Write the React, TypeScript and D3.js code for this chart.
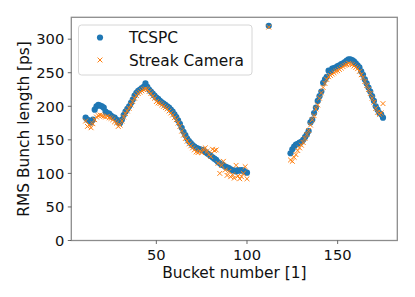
import React from 'react'
import * as d3 from 'd3'

// bucket numbers
const bucketsLeft = [11, 12, 13, 14, 15, 16, 17, 18, 19, 20, 21, 22, 23, 24, 25, 26, 27, 28, 29, 30,
  31, 32, 33, 34, 35, 36, 37, 38, 39, 40, 41, 42, 43, 44, 45, 46, 47, 48, 49, 50,
  51, 52, 53, 54, 55, 56, 57, 58, 59, 60, 61, 62, 63, 64, 65, 66, 67, 68, 69, 70,
  71, 72, 73, 74, 75, 76, 77, 78, 79, 80, 81, 82, 83, 84, 85, 86, 87, 88, 89, 90,
  91, 92, 93, 94, 95, 96, 97, 98, 99, 100]
const bucketsMid = [112]
const bucketsRight = [124, 125, 126, 127, 128, 129, 130, 131, 132, 133, 134, 135, 136, 137, 138, 139,
  140, 141, 142, 143, 144, 145, 146, 147, 148, 149, 150, 151, 152, 153, 154, 155, 156, 157, 158, 159,
  160, 161, 162, 163, 164, 165, 166, 167, 168, 169, 170, 171, 172, 173, 174, 175]

// TCSPC values [ps]
const tcspcLeft = [183, 180, 178, 176, 180, 195, 200, 202, 201, 200, 198, 192, 190, 189, 186, 184, 183, 180, 176, 175,
  180, 187, 192, 196, 200, 205, 210, 216, 220, 223, 225, 227, 229, 234, 229, 225, 222, 219, 216, 213,
  211, 208, 206, 204, 202, 200, 198, 195, 192, 188, 184, 179, 174, 168, 162, 157, 152, 148, 145, 142,
  140, 138, 137, 136, 135, 134, 132, 130, 128, 126, 124, 122, 120, 117, 115, 113, 112, 110, 109, 108,
  106, 105, 104, 103, 105, 104, 105, 104, 102, 101]
const tcspcMid = [320]
const tcspcRight = [130, 136, 140, 143, 144, 146, 147, 150, 154, 158, 163, 176, 180, 190, 198, 208,
  215, 222, 235, 240, 244, 253, 252, 256, 257, 258, 260, 261, 263, 264, 266, 268, 270, 270, 269, 267,
  264, 261, 258, 252, 247, 240, 234, 228, 222, 215, 208, 200, 195, 190, 188, 183]

// Streak camera values [ps]
const streakLeft = [178, 170, 172, 168, 174, 180, 184, 186, 187, 186, 185, 184, 185, 183, 182, 180, 177, 175, 170, 172,
  178, 184, 189, 193, 197, 202, 207, 212, 216, 219, 221, 223, 225, 226, 225, 222, 219, 215, 212, 207,
  205, 204, 202, 200, 198, 196, 193, 190, 187, 183, 180, 175, 170, 163, 157, 152, 148, 144, 141, 138,
  135, 132, 131, 133, 131, 136, 138, 133, 128, 125, 136, 134, 135, 115, 100, 112, 118, 105, 97, 103,
  95, 98, 93, 112, 96, 92, 95, 100, 110, 92]
const streakMid = [318]
const streakRight = [120, 118, 124, 128, 134, 138, 142, 146, 152, 158, 164, 172, 180, 186, 196, 202,
  212, 220, 228, 234, 240, 244, 246, 248, 250, 252, 253, 255, 257, 259, 261, 262, 264, 263, 262, 260,
  258, 256, 252, 247, 243, 237, 231, 225, 219, 212, 206, 197, 191, 188, 190, 204]

const xTicks = [50, 100, 150]
const yTicks = [0, 50, 100, 150, 200, 250, 300]

const buckets = [...bucketsLeft, ...bucketsMid, ...bucketsRight]
const tcspc = [...tcspcLeft, ...tcspcMid, ...tcspcRight]
const streak = [...streakLeft, ...streakMid, ...streakRight]

const width = 415
const height = 297
const margin = { top: 17.3, right: 17.7, bottom: 56.5, left: 71.3 }

const blue = '#1f77b4'
const orange = '#ff7f0e'
const font = 'DejaVu Sans, sans-serif'
const tickSize = 14.7
const labelSize = 15.4

export default function App() {
  const x = d3.scaleLinear().domain([3.1, 182.9]).range([margin.left, width - margin.right])
  const y = d3.scaleLinear().domain([0, 332.6]).range([height - margin.bottom, margin.top])

  const x0 = margin.left
  const x1 = width - margin.right
  const y0 = height - margin.bottom
  const y1 = margin.top

  return (
    <svg width={width} height={height} style={{ position: 'absolute', left: 0, top: 0 }}
      fontFamily={font}>
      <rect width={width} height={height} fill="white" />

      {/* TCSPC */}
      {buckets.map((b, i) => (
        <circle key={'c' + i} cx={x(b)} cy={y(tcspc[i])} r={3.1} fill={blue} />
      ))}

      {/* streak camera */}
      {buckets.map((b, i) => {
        const cx = x(b), cy = y(streak[i]), s = 2.4
        return (
          <path key={'s' + i}
            d={`M${cx - s},${cy - s}L${cx + s},${cy + s}M${cx - s},${cy + s}L${cx + s},${cy - s}`}
            stroke={orange} strokeWidth={1} fill="none" />
        )
      })}

      {/* frame */}
      <rect x={x0} y={y1} width={x1 - x0} height={y0 - y1} fill="none" stroke="#8c8c8c" strokeWidth={1.3} />

      {/* x axis */}
      {xTicks.map(t => (
        <g key={'xt' + t}>
          <line x1={x(t)} x2={x(t)} y1={y0} y2={y0 + 3.5} stroke="#444" strokeWidth={0.8} />
          <text x={x(t)} y={y0 + 19} textAnchor="middle" fontSize={tickSize} fill="#111">{t}</text>
        </g>
      ))}
      <text x={(x0 + x1) / 2} y={277.5} textAnchor="middle" fontSize={labelSize} fill="#111">Bucket number [1]</text>

      {/* y axis */}
      {yTicks.map(t => (
        <g key={'yt' + t}>
          <line x1={x0 - 3.5} x2={x0} y1={y(t)} y2={y(t)} stroke="#444" strokeWidth={0.8} />
          <text x={x0 - 7} y={y(t) + 5.3} textAnchor="end" fontSize={tickSize} fill="#111">{t}</text>
        </g>
      ))}
      <text transform={`translate(28.5,${(y0 + y1) / 2}) rotate(-90)`} textAnchor="middle"
        fontSize={labelSize} fill="#111">RMS Bunch length [ps]</text>

      {/* legend */}
      <rect x={78.5} y={25} width={173.5} height={50} rx={3} fill="white" fillOpacity={0.8}
        stroke="#d6d6d6" strokeWidth={1} />
      <circle cx={100} cy={37.5} r={3.1} fill={blue} />
      <text x={129} y={43} fontSize={labelSize} fill="#111">TCSPC</text>
      <path d="M97.6,57.6L102.4,62.4M97.6,62.4L102.4,57.6" stroke={orange} strokeWidth={1} fill="none" />
      <text x={129} y={65.5} fontSize={labelSize} fill="#111">Streak Camera</text>
    </svg>
  )
}
